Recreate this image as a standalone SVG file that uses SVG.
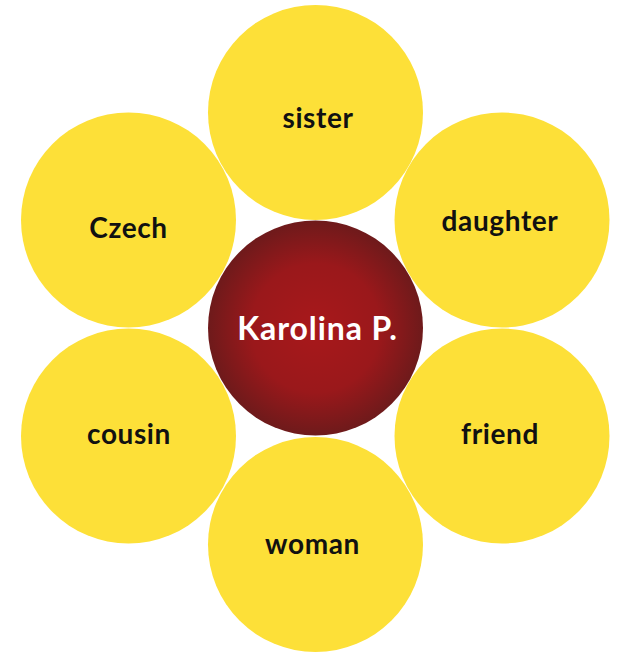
<svg xmlns="http://www.w3.org/2000/svg" width="618" height="652" viewBox="0 0 618 652">
<defs>
<radialGradient id="redGrad" cx="50%" cy="50%" r="50%">
<stop offset="0" stop-color="#A8181B"/>
<stop offset="0.6" stop-color="#9A181B"/>
<stop offset="1" stop-color="#6E1A1B"/>
</radialGradient>
</defs>
<style>
.petal{fill:#FDE038;}
.center{fill:url(#redGrad);}
.lbl{font-family:Lato,"Liberation Sans",sans-serif;font-weight:bold;font-size:28px;letter-spacing:0.6px;fill:#111;text-anchor:middle;}
.clbl{font-family:Lato,"Liberation Sans",sans-serif;font-weight:bold;font-size:32px;letter-spacing:0.9px;fill:#fff;text-anchor:middle;}
</style>
<rect width="618" height="652" fill="#fff"/>
<g id="connectors"></g>
<g id="node-sister"><circle class="petal" cx="315.5" cy="112.5" r="107.5"/><text class="lbl" x="318" y="128">sister</text></g>
<g id="node-czech"><circle class="petal" cx="128.5" cy="220" r="107.5"/><text class="lbl" x="128.5" y="238">Czech</text></g>
<g id="node-daughter"><circle class="petal" cx="502" cy="220" r="107.5"/><text class="lbl" x="500" y="231">daughter</text></g>
<g id="node-cousin"><circle class="petal" cx="128.5" cy="436" r="107.5"/><text class="lbl" x="129" y="444">cousin</text></g>
<g id="node-friend"><circle class="petal" cx="502" cy="436" r="107.5"/><text class="lbl" x="500" y="444">friend</text></g>
<g id="node-woman"><circle class="petal" cx="315.5" cy="544.5" r="107.5"/><text class="lbl" x="312.5" y="554">woman</text></g>
<g id="node-karolina"><circle class="center" cx="315.5" cy="328" r="107.5"/><text class="clbl" x="317.5" y="340">Karolina P.</text></g>
</svg>
